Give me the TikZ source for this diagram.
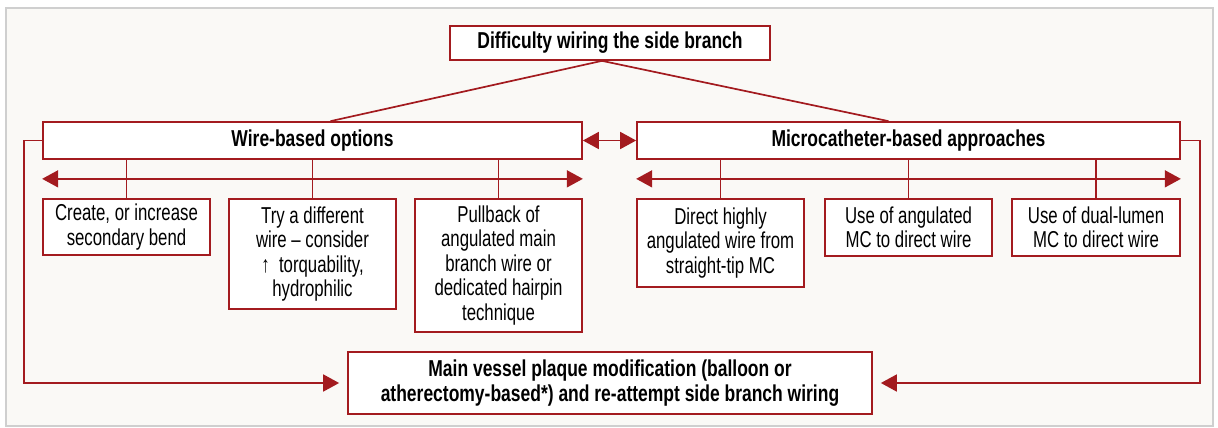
\documentclass[tikz,border=0pt]{standalone}
\usepackage{fontspec}
\setmainfont{Liberation Sans}[FakeStretch=0.73, BoldFeatures={FakeStretch=0.76}]
\usepackage{tikz}
\usetikzlibrary{arrows.meta, calc}

\definecolor{figred}{HTML}{A31B1F}
\definecolor{figbg}{HTML}{FAF9F6}
\definecolor{figframe}{HTML}{CFCFCF}

\tikzset{
	box/.style={draw=figred, fill=white, line width=1.7pt, rectangle, align=center, inner sep=0pt,
		font=\fontsize{23}{24.5}\selectfont},
	headbox/.style={box, font=\fontsize{23}{24.5}\selectfont\bfseries},
	link/.style={draw=figred, line width=1.7pt},
	tip/.style={-{Triangle[length=16pt,width=17pt]}},
	twotip/.style={{Triangle[length=16pt,width=17pt]}-{Triangle[length=16pt,width=17pt]}}
}

\begin{document}
\begin{tikzpicture}[x=1pt, y=-1pt]
			\useasboundingbox (0, 0) rectangle (1218, 428);
			\draw[figframe, fill=figbg, line width=1.2pt] (6, 8) rectangle (1213, 426);
			
			% top and group boxes
			\node[headbox, minimum width=320, minimum height=34] (top) at (610, 43) {Difficulty wiring the side branch};
			\node[headbox, minimum width=539, minimum height=37] (wire) at (312.5, 140.5) {Wire-based options};
			\node[headbox, minimum width=543, minimum height=37] (micro) at (908.5, 140.5) {Microcatheter-based approaches};
			
			% option boxes
			\node[box, minimum width=167, minimum height=56] (w1) at (126.5, 227) {Create, or increase\\secondary bend};
			\node[box, minimum width=167, minimum height=110] (w2) at (312.5, 254) {Try a different\\wire – consider\\↑\ \ torquability,\\hydrophilic};
			\node[box, minimum width=167, minimum height=133] (w3) at (498.5, 265.5) {Pullback of\\angulated main\\branch wire or\\dedicated hairpin\\technique};
			\node[box, minimum width=167, minimum height=88] (m1) at (720.5, 243) {Direct highly\\angulated wire from\\straight-tip MC};
			\node[box, minimum width=167, minimum height=57] (m2) at (908.5, 227.5) {Use of angulated\\MC to direct wire};
			\node[box, minimum width=168, minimum height=57] (m3) at (1096, 227.5) {Use of dual-lumen\\MC to direct wire};
			
			\node[headbox, minimum width=524, minimum height=62] (main) at (610, 383) {Main vessel plaque modification (balloon or\\atherectomy-based*) and re-attempt side branch wiring};
			
			\coordinate (T) at ($(top.south)+(-8, 0)$);
			\coordinate (WA) at ($(wire.south west)+(0, 19)$);
			\coordinate (WB) at ($(wire.south east)+(0, 19)$);
			\coordinate (MA) at ($(micro.south west)+(0, 19)$);
			\coordinate (MB) at ($(micro.south east)+(0, 19)$);
			\coordinate (L) at ($(wire.west)+(-18, 0)$);
			\coordinate (R) at ($(micro.east)+(19, 0)$);
			
			\draw[link] (T) -- ($(wire.north)+(18, 0)$);
			\draw[link] (T) -- ($(micro.north)+(-20, 0)$);
			\draw[link, twotip] (wire.east) -- (micro.west);
			
			\draw[link, twotip] (WA) -- (WB);
			\draw[link, twotip] (MA) -- (MB);
			
			\foreach \b in {w1, w2, w3}
				\draw[link] (\b.north) -- (\b.north |- wire.south);
			\foreach \b in {m1, m2, m3}
				\draw[link] (\b.north) -- (\b.north |- micro.south);
			
			\draw[link, tip, shorten >=8pt] (wire.west) -- (L) |- (main.west);
			\draw[link, tip, shorten >=8pt] (micro.east) -- (R) |- (main.east);
			\end{tikzpicture}
\end{document}
